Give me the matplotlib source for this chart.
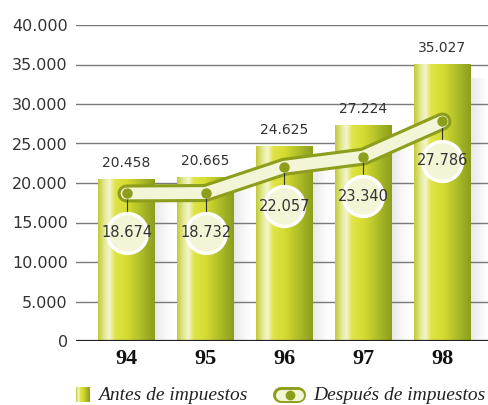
import matplotlib
matplotlib.use('Agg')
import matplotlib.pyplot as plt
import numpy as np
from matplotlib.lines import Line2D
from matplotlib.colors import LinearSegmentedColormap

years = ['94', '95', '96', '97', '98']
antes = [20458, 20665, 24625, 27224, 35027]
despues = [18674, 18732, 22057, 23340, 27786]
yticks = [0, 5000, 10000, 15000, 20000, 25000, 30000, 35000, 40000]


def fmt(v):
    return f'{v:,}'.replace(',', '.')


green = '#8e9e1c'
cream = '#f3f5d6'
txt = '#333333'

bar_cmap = LinearSegmentedColormap.from_list('bar', [
    (0.00, '#c3cb35'), (0.12, '#e6ea9a'), (0.20, '#f3f4cf'),
    (0.30, '#dfe448'), (0.50, '#d6dc30'), (0.70, '#b7c52a'),
    (0.85, '#9fb024'), (1.00, '#8c9d1c')])
grad = np.linspace(0, 1, 256).reshape(1, -1)

fig = plt.figure(figsize=(4.89, 4.05), dpi=100)
ax = fig.add_axes([76 / 489, 64 / 405, 1 - 76 / 489, 316 / 405])

x = np.arange(len(years))
w = 0.72
ax.set_xlim(-0.64, 4.59)
ax.set_ylim(0, 40000)

for t in yticks[1:]:
    ax.axhline(t, color='#7a7a7a', lw=1.0, zorder=0)
ax.axhline(0, color='#222222', lw=1.6, zorder=6)

# shadow + bars
shadow = np.zeros((1, 64, 4))
shadow[..., :3] = 0.45
shadow[..., 3] = np.linspace(0.3, 0, 64) ** 1.5
for xi, v in zip(x, antes):
    ax.imshow(shadow, extent=[xi + w / 2, xi + w / 2 + 0.25, 0, v * 0.95],
              aspect='auto', zorder=1, interpolation='bilinear')
    ax.imshow(grad, cmap=bar_cmap, extent=[xi - w / 2, xi + w / 2, 0, v],
              aspect='auto', zorder=2, interpolation='bilinear')
    ax.text(xi, v + 1200, fmt(v), ha='center', va='bottom', fontsize=10,
            color=txt, zorder=7)

# line after taxes
ax.plot(x, despues, color=green, lw=13, solid_capstyle='round', zorder=3)
ax.plot(x, despues, color=cream, lw=8.5, solid_capstyle='round', zorder=4)
off = 5000
for xi, v in zip(x, despues):
    ax.plot([xi, xi], [v, v - off], color='#333333', lw=0.8, zorder=3.5)
    ax.plot(xi, v, 'o', color=green, ms=6.5, zorder=5)
    ax.scatter([xi], [v - off], s=820, color=cream, edgecolor='white',
               linewidth=2.5, zorder=5)
    ax.text(xi, v - off, fmt(v), ha='center', va='center', fontsize=10.5,
            color=txt, zorder=7)

ax.set_yticks(yticks)
ax.set_yticklabels([fmt(t) for t in yticks], fontsize=11.5, color=txt)
ax.set_xticks(x)
ax.set_xticklabels(years, fontsize=16, fontweight='bold',
                   family='Liberation Serif', color='#111111')
ax.tick_params(axis='both', length=0, pad=6)
ax.tick_params(axis='x', pad=6)
for s in ax.spines.values():
    s.set_visible(False)

# legend
lax = fig.add_axes([76 / 489, 3 / 405, 14 / 489, 15 / 405])
lax.imshow(grad, cmap=bar_cmap, aspect='auto')
lax.axis('off')
fig.text(98 / 489, 10 / 405, 'Antes de impuestos', fontsize=14,
         style='italic', family='Liberation Serif', color='#222222', va='center')
lx = [281 / 489, 298 / 489]
ly = [10 / 405, 10 / 405]
fig.add_artist(Line2D(lx, ly, transform=fig.transFigure, color=green, lw=11.5,
                      solid_capstyle='round'))
fig.add_artist(Line2D(lx, ly, transform=fig.transFigure, color=cream, lw=8,
                      solid_capstyle='round'))
fig.add_artist(Line2D([289.5 / 489], [10 / 405], transform=fig.transFigure,
                      marker='o', color=green, ms=6))
fig.text(313 / 489, 10 / 405, 'Después de impuestos', fontsize=14,
         style='italic', family='Liberation Serif', color='#222222', va='center')

fig.savefig('out.png', dpi=100)
